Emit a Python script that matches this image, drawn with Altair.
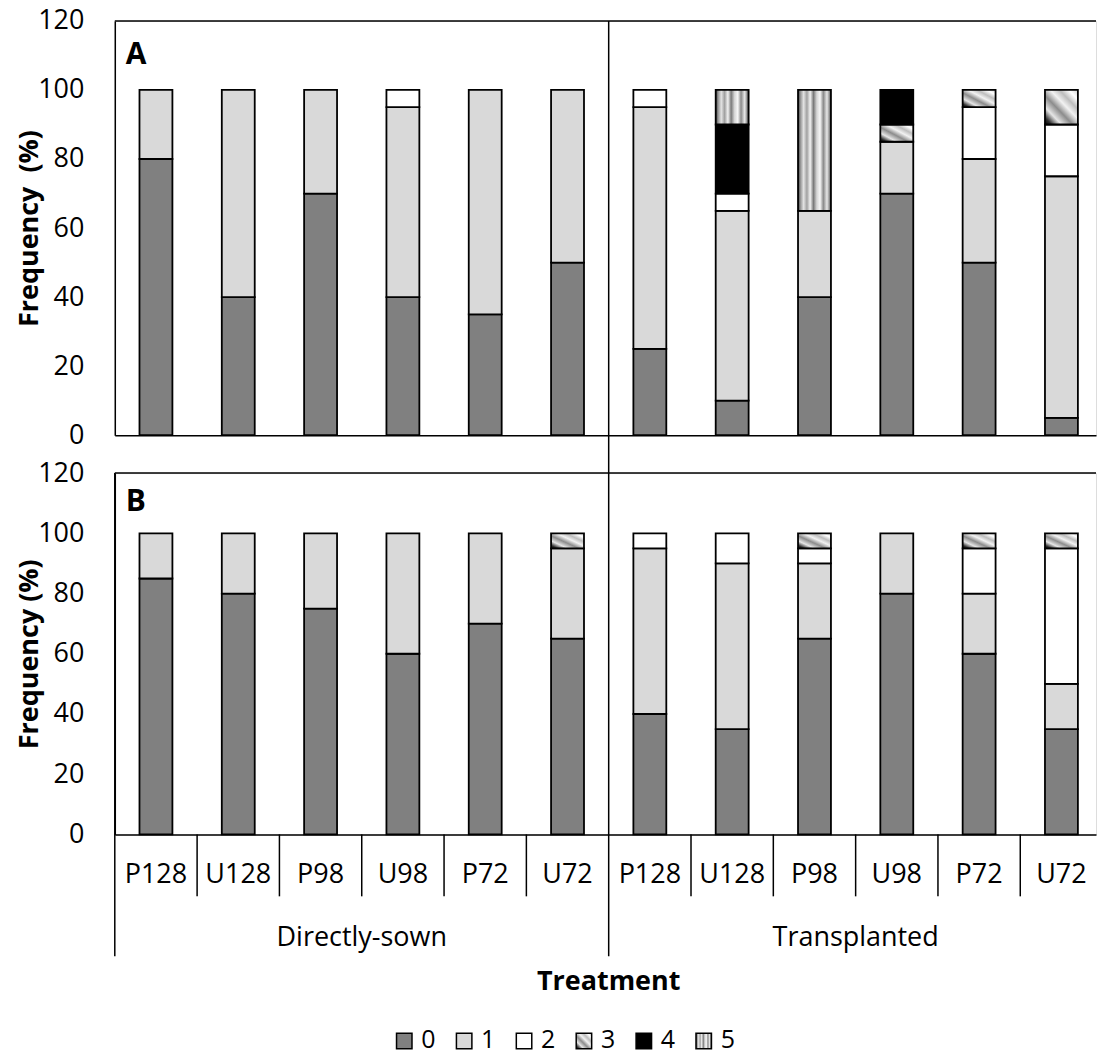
import altair as alt
import pandas as pd

# ---------------- data ----------------
groups = ["Directly-sown", "Transplanted"]
treatments = ["P128", "U128", "P98", "U98", "P72", "U72"]
classes = ["0", "1", "2", "3", "4", "5"]

# Panel A: frequency (%) of each class; 12 bars = Directly-sown x6, Transplanted x6
A0 = [80, 40, 70, 40, 35, 50, 25, 10, 40, 70, 50, 5]
A1 = [20, 60, 30, 55, 65, 50, 70, 55, 25, 15, 30, 70]
A2 = [0, 0, 0, 5, 0, 0, 5, 5, 0, 0, 15, 15]
A3 = [0, 0, 0, 0, 0, 0, 0, 0, 0, 5, 5, 10]
A4 = [0, 0, 0, 0, 0, 0, 0, 20, 0, 10, 0, 0]
A5 = [0, 0, 0, 0, 0, 0, 0, 10, 35, 0, 0, 0]

# Panel B
B0 = [85, 80, 75, 60, 70, 65, 40, 35, 65, 80, 60, 35]
B1 = [15, 20, 25, 40, 30, 30, 55, 55, 25, 20, 20, 15]
B2 = [0, 0, 0, 0, 0, 0, 5, 10, 5, 0, 15, 45]
B3 = [0, 0, 0, 0, 0, 5, 0, 0, 5, 0, 5, 5]
B4 = [0, 0, 0, 0, 0, 0, 0, 0, 0, 0, 0, 0]
B5 = [0, 0, 0, 0, 0, 0, 0, 0, 0, 0, 0, 0]

y_ticks = [0, 20, 40, 60, 80, 100, 120]

# ---------------- styling ----------------
FONT = "Open Sans"
W = 983
H_A = 415
H_B = 362
GAP = 38
X_MAX = 11.92

diag = alt.LinearGradient(
    gradient="linear", x1=0, y1=1, x2=1, y2=0,
    stops=[
        alt.GradientStop(color="#000000", offset=0.0),
        alt.GradientStop(color="#303030", offset=0.1),
        alt.GradientStop(color="#e6e6e6", offset=0.25),
        alt.GradientStop(color="#8c8c8c", offset=0.42),
        alt.GradientStop(color="#f2f2f2", offset=0.58),
        alt.GradientStop(color="#bdbdbd", offset=0.72),
        alt.GradientStop(color="#ffffff", offset=0.86),
        alt.GradientStop(color="#d0d0d0", offset=1.0),
    ],
)
vert = alt.LinearGradient(
    gradient="linear", x1=0, y1=0, x2=1, y2=0,
    stops=[
        alt.GradientStop(color="#404040", offset=0.0),
        alt.GradientStop(color="#9a9a9a", offset=0.08),
        alt.GradientStop(color="#e3e3e3", offset=0.17),
        alt.GradientStop(color="#a0a0a0", offset=0.27),
        alt.GradientStop(color="#f2f2f2", offset=0.37),
        alt.GradientStop(color="#7a7a7a", offset=0.47),
        alt.GradientStop(color="#d5d5d5", offset=0.57),
        alt.GradientStop(color="#f7f7f7", offset=0.67),
        alt.GradientStop(color="#8a8a8a", offset=0.77),
        alt.GradientStop(color="#e8e8e8", offset=0.88),
        alt.GradientStop(color="#505050", offset=1.0),
    ],
)
FILL = {"0": "#808080", "1": "#d9d9d9", "2": "#ffffff", "3": diag, "4": "#000000", "5": vert}


def long_table(series):
    rows = []
    for gi, g in enumerate(groups):
        for ti, t in enumerate(treatments):
            pos = gi * len(treatments) + ti
            for ci, c in enumerate(classes):
                v = series[ci][pos]
                if v > 0:
                    rows.append(dict(group=g, treatment=t, pos=pos, cls=c, order=ci, value=v))
    return pd.DataFrame(rows)


cat_rows = []
for gi, g in enumerate(groups):
    for ti, t in enumerate(treatments):
        pos = gi * len(treatments) + ti
        cat_rows.append(dict(group=g, treatment=t, pos=pos, c=pos + 0.5,
                             long=(ti == 0)))
cat_df = pd.DataFrame(cat_rows)

XS = alt.Scale(domain=[0, X_MAX], nice=False, zero=False)
YS = alt.Scale(domain=[0, 120], nice=False)
XAX = alt.Axis(labels=False, ticks=False, grid=False, title=None,
               domainColor="black", domainWidth=1.5)


def yaxis(title):
    return alt.Axis(values=y_ticks, grid=False, ticks=False, tickSize=0,
                    labelPadding=31, labelFontSize=27, labelFont=FONT,
                    labelColor="black", labelFlush=False, labelOverlap=False,
                    domainColor="black", domainWidth=1.5,
                    title=title, titleFont=FONT, titleFontSize=27,
                    titleFontWeight="bold", titleColor="black",
                    titleAngle=270, titleX=-77, titleBaseline="alphabetic",
                    titleAlign="center")


def bar_layers(series, title):
    df = long_table(series)
    base = alt.Chart(df).transform_stack(
        stack="value", groupby=["pos"], as_=["y0", "y1"],
        sort=[alt.SortField("order", "ascending")],
    ).transform_calculate(xa="datum.pos + 0.3", xb="datum.pos + 0.7")
    out = []
    for c in classes:
        out.append(
            base.transform_filter(alt.datum.cls == c)
            .mark_bar(fill=FILL[c], stroke="black", strokeWidth=1.8)
            .encode(
                x=alt.X("xa:Q", scale=XS, axis=XAX),
                x2="xb:Q",
                y=alt.Y("y0:Q", scale=YS, axis=yaxis(title)),
                y2="y1:Q",
            )
        )
    return out


def frame_top():
    return alt.Chart(pd.DataFrame({"k": [0]})).mark_rule(
        color="black", strokeWidth=1.5).encode(
        x=alt.value(0), x2=alt.value(W), y=alt.value(0))


def panel_label(txt, dy):
    return alt.Chart(pd.DataFrame({"lab": [txt]})).mark_text(
        font=FONT, fontSize=30, fontWeight="bold", align="left",
        baseline="alphabetic", dx=11, dy=dy, color="black").encode(
        x=alt.datum(0), y=alt.datum(120), text="lab:N")


# ---------------- panel A ----------------
div_A = alt.Chart(cat_df).transform_filter(
    "datum.long && datum.pos > 0").mark_rule(color="black", strokeWidth=1.5).encode(
    x=alt.X("pos:Q", scale=XS), y=alt.value(0), y2=alt.value(H_A + GAP))

panelA = alt.layer(
    *bar_layers([A0, A1, A2, A3, A4, A5], "Frequency\u00a0\u00a0(%)"),
    frame_top(), div_A, panel_label("A", 43),
).properties(width=W, height=H_A)

# ---------------- panel B ----------------
long_B = alt.Chart(cat_df).transform_filter("datum.long").mark_rule(
    color="black", strokeWidth=1.5).encode(
    x=alt.X("pos:Q", scale=XS), y=alt.value(0), y2=alt.value(H_B + 122))
short_B = alt.Chart(cat_df).transform_filter("!datum.long").mark_rule(
    color="black", strokeWidth=1.5).encode(
    x=alt.X("pos:Q", scale=XS), y=alt.value(H_B), y2=alt.value(H_B + 62))
treat_lab = alt.Chart(cat_df).mark_text(
    font=FONT, fontSize=27, baseline="middle", color="black").encode(
    x=alt.X("c:Q", scale=XS), y=alt.value(H_B + 41), text="treatment:N")
group_lab = alt.Chart(cat_df).transform_aggregate(
    c="mean(c)", groupby=["group"]).mark_text(
    font=FONT, fontSize=27, baseline="middle", color="black").encode(
    x=alt.X("c:Q", scale=XS), y=alt.value(H_B + 104), text="group:N")
x_title = alt.Chart(cat_df).transform_aggregate(c="mean(c)").mark_text(
    text="Treatment", font=FONT, fontSize=27, fontWeight="bold",
    baseline="middle", color="black").encode(
    x=alt.X("c:Q", scale=XS), y=alt.value(H_B + 148))

mainB = alt.layer(
    *bar_layers([B0, B1, B2, B3, B4, B5], "Frequency (%)"),
    frame_top(), long_B, short_B, treat_lab, group_lab, x_title,
    panel_label("B", 38),
)

leg_df = pd.DataFrame({"cls": classes})
LX = alt.X("cls:N", scale=alt.Scale(type="point", domain=classes,
                                    range=[290, 590], padding=0), axis=None)
leg_layers = []
for c in classes:
    leg_layers.append(
        alt.Chart(leg_df).transform_filter(alt.datum.cls == c).mark_square(
            size=240, fill=FILL[c], stroke="black", strokeWidth=1.5, opacity=1
        ).encode(x=LX, y=alt.value(H_B + 207))
    )
leg_text = alt.Chart(leg_df).mark_text(
    font=FONT, fontSize=25, align="left", baseline="middle", dx=17,
    color="black").encode(x=LX, y=alt.value(H_B + 206), text="cls:N")
legend = alt.layer(*leg_layers, leg_text)

panelB = alt.layer(mainB, legend).resolve_scale(x="independent").properties(
    width=W, height=H_B)

chart = alt.vconcat(panelA, panelB, spacing=GAP, bounds="flush").properties(
    padding={"left": 15, "top": 5, "right": 0, "bottom": 1}
).configure_view(stroke=None).configure(font=FONT)

chart.save("out.html", embed_options={"renderer": "svg", "actions": False})
